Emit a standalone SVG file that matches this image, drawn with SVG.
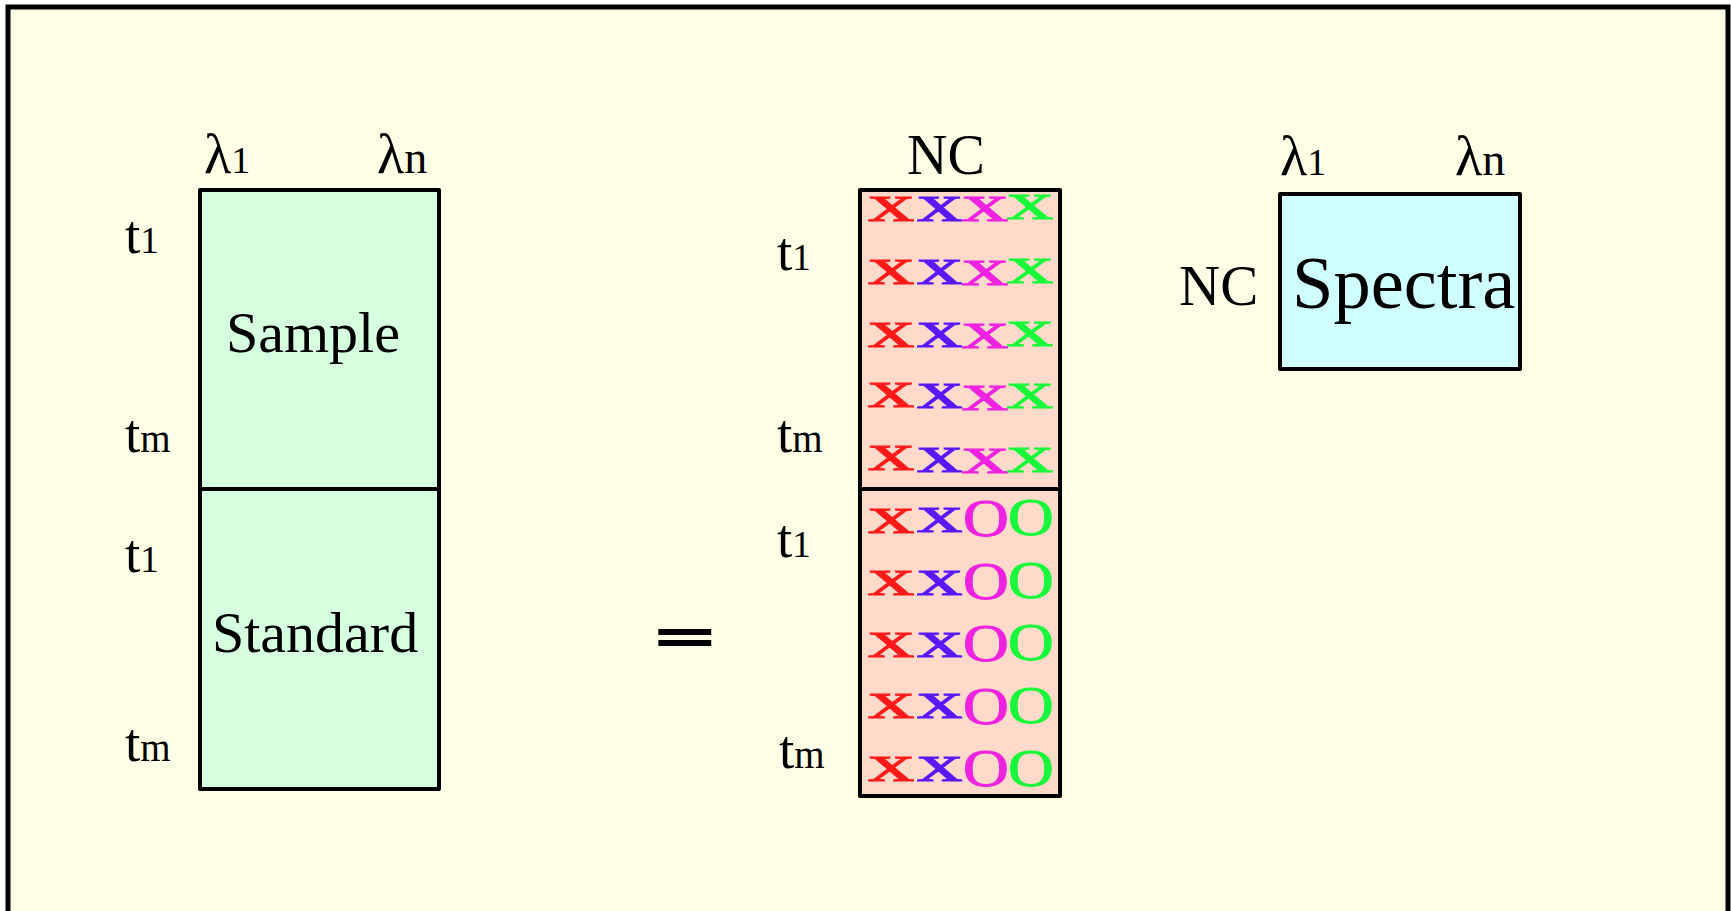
<svg xmlns="http://www.w3.org/2000/svg" width="1731" height="911" viewBox="0 0 1731 911">
  <style>
    .lbl { font-family: "Liberation Serif", "Times New Roman", serif; fill: #000; }
    .box { stroke: #000; stroke-width: 4; stroke-linejoin: round; }
    .mark { font-family: "Liberation Serif", "Times New Roman", serif; font-size: 53px; stroke-width: 0.9; }
    .ring { font-family: "Liberation Serif", "Times New Roman", serif; font-size: 52px; stroke-width: 0.9; }
    .r { fill: #ff1a1a; stroke: #ff1a1a; }
    .b { fill: #5a18f8; stroke: #5a18f8; }
    .m { fill: #ee22e0; stroke: #ee22e0; }
    .g { fill: #18f83a; stroke: #18f83a; }
  </style>

  <!-- page -->
  <rect x="0" y="0" width="1731" height="911" fill="#ffffff"/>
  <rect x="8" y="7" width="1720" height="1000" fill="#fefee6" stroke="#000" stroke-width="5"/>

  <!-- measured matrix: sample stacked on standard -->
  <g id="measured">
    <rect class="box" x="200" y="190" width="239" height="299" fill="#d6ffe0"/>
    <rect class="box" x="200" y="489" width="239" height="300" fill="#d6ffe0"/>
    <text class="lbl" x="204" y="173" font-size="56">λ<tspan font-size="38">1</tspan></text>
    <text class="lbl" x="377" y="173" font-size="56">λ<tspan font-size="46">n</tspan></text>
    <text class="lbl" x="125" y="253" font-size="55">t<tspan font-size="37">1</tspan></text>
    <text class="lbl" x="125" y="452" font-size="55">t<tspan font-size="39">m</tspan></text>
    <text class="lbl" x="125" y="572" font-size="55">t<tspan font-size="37">1</tspan></text>
    <text class="lbl" x="125" y="761" font-size="55">t<tspan font-size="39">m</tspan></text>
    <text class="lbl" x="226" y="352" font-size="58">Sample</text>
    <text class="lbl" x="212" y="652" font-size="58">Standard</text>
  </g>

  <!-- equals sign -->
  <g id="equals">
    <text class="lbl" transform="translate(655,656) scale(1.1,0.6)" font-size="96" font-weight="bold" font-family="Liberation Sans, Arial, sans-serif" stroke="#000" stroke-width="3.5">=</text>
  </g>

  <!-- concentration matrix -->
  <g id="concentrations">
    <rect class="box" x="860" y="190" width="200" height="299" fill="#ffd9c9"/>
    <rect class="box" x="860" y="489" width="200" height="307" fill="#ffd9c9"/>
    <text class="lbl" x="907" y="174" font-size="56">NC</text>
    <text class="lbl" x="777" y="270" font-size="55">t<tspan font-size="37">1</tspan></text>
    <text class="lbl" x="777" y="452" font-size="55">t<tspan font-size="39">m</tspan></text>
    <text class="lbl" x="777" y="557" font-size="55">t<tspan font-size="37">1</tspan></text>
    <text class="lbl" x="779" y="768" font-size="55">t<tspan font-size="39">m</tspan></text>

    <!-- sample rows: four components -->
    <g id="sample-rows">
      <text class="mark r" transform="translate(868,221) scale(1.75,1)">x</text>
      <text class="mark b" transform="translate(917,221) scale(1.72,1)">x</text>
      <text class="mark m" transform="translate(962,221) scale(1.75,1)">x</text>
      <text class="mark g" transform="translate(1007,219) scale(1.75,1)">x</text>

      <text class="mark r" transform="translate(868,284) scale(1.75,1)">x</text>
      <text class="mark b" transform="translate(917,284) scale(1.72,1)">x</text>
      <text class="mark m" transform="translate(962,285) scale(1.75,1)">x</text>
      <text class="mark g" transform="translate(1007,283) scale(1.75,1)">x</text>

      <text class="mark r" transform="translate(868,347) scale(1.75,1)">x</text>
      <text class="mark b" transform="translate(917,347) scale(1.72,1)">x</text>
      <text class="mark m" transform="translate(962,348) scale(1.75,1)">x</text>
      <text class="mark g" transform="translate(1007,346) scale(1.75,1)">x</text>

      <text class="mark r" transform="translate(868,407) scale(1.75,1)">x</text>
      <text class="mark b" transform="translate(917,408) scale(1.72,1)">x</text>
      <text class="mark m" transform="translate(962,410) scale(1.75,1)">x</text>
      <text class="mark g" transform="translate(1007,408) scale(1.75,1)">x</text>

      <text class="mark r" transform="translate(868,470) scale(1.75,1)">x</text>
      <text class="mark b" transform="translate(917,472) scale(1.72,1)">x</text>
      <text class="mark m" transform="translate(962,473) scale(1.75,1)">x</text>
      <text class="mark g" transform="translate(1007,472) scale(1.75,1)">x</text>
    </g>

    <!-- standard rows: two components present -->
    <g id="standard-rows">
      <text class="mark r" transform="translate(868,533) scale(1.75,1)">x</text>
      <text class="mark b" transform="translate(917,532) scale(1.72,1)">x</text>
      <text class="ring m" transform="translate(963,536) scale(1.22,1)">O</text>
      <text class="ring g" transform="translate(1008,535) scale(1.22,1)">O</text>

      <text class="mark r" transform="translate(868,595) scale(1.75,1)">x</text>
      <text class="mark b" transform="translate(917,595) scale(1.72,1)">x</text>
      <text class="ring m" transform="translate(963,599) scale(1.22,1)">O</text>
      <text class="ring g" transform="translate(1008,598) scale(1.22,1)">O</text>

      <text class="mark r" transform="translate(868,657) scale(1.75,1)">x</text>
      <text class="mark b" transform="translate(917,657) scale(1.72,1)">x</text>
      <text class="ring m" transform="translate(963,661) scale(1.22,1)">O</text>
      <text class="ring g" transform="translate(1008,660) scale(1.22,1)">O</text>

      <text class="mark r" transform="translate(868,718) scale(1.75,1)">x</text>
      <text class="mark b" transform="translate(917,718) scale(1.72,1)">x</text>
      <text class="ring m" transform="translate(963,724) scale(1.22,1)">O</text>
      <text class="ring g" transform="translate(1008,723) scale(1.22,1)">O</text>

      <text class="mark r" transform="translate(868,781) scale(1.75,1)">x</text>
      <text class="mark b" transform="translate(917,781) scale(1.72,1)">x</text>
      <text class="ring m" transform="translate(963,786) scale(1.22,1)">O</text>
      <text class="ring g" transform="translate(1008,786) scale(1.22,1)">O</text>
    </g>
  </g>

  <!-- pure component spectra -->
  <g id="spectra">
    <rect class="box" x="1280" y="194" width="240" height="175" fill="#d0ffff"/>
    <text class="lbl" x="1280" y="175" font-size="56">λ<tspan font-size="38">1</tspan></text>
    <text class="lbl" x="1455" y="175" font-size="56">λ<tspan font-size="46">n</tspan></text>
    <text class="lbl" x="1179" y="305" font-size="57">NC</text>
    <text class="lbl" x="1292" y="308" font-size="74.5">Spectra</text>
  </g>
</svg>
